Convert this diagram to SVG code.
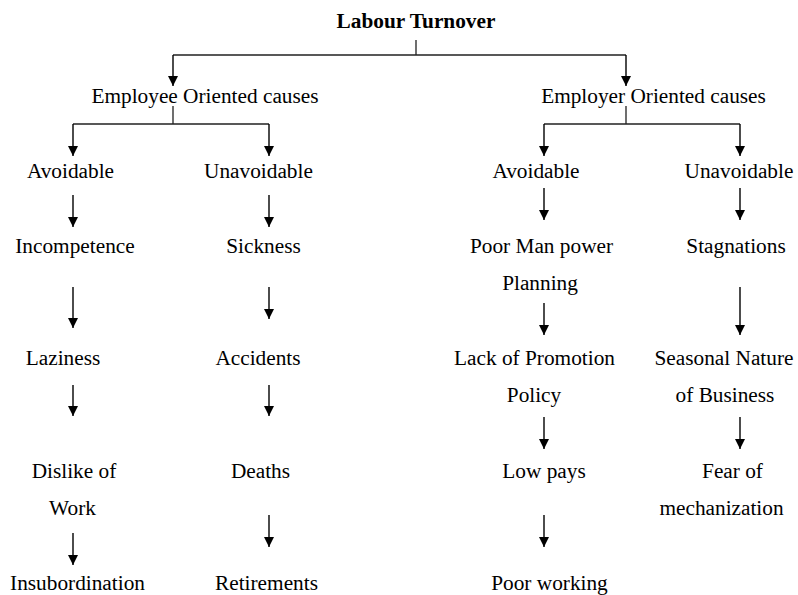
<svg xmlns="http://www.w3.org/2000/svg" width="798" height="595" viewBox="0 0 798 595">
<defs>
<marker id="ah" markerUnits="userSpaceOnUse" markerWidth="10" markerHeight="10" refX="10" refY="5" orient="auto">
<path d="M0,0 L10,5 L0,10 z" fill="#000"/>
</marker>
<style>
text{font-family:'Liberation Serif','DejaVu Serif',serif;font-size:21.3px;fill:#000;text-anchor:middle}
.b{font-weight:bold}
.ln{stroke:#222;stroke-width:1.3;fill:none}
.ar{stroke:#000;stroke-width:1.4;fill:none;marker-end:url(#ah)}
</style>
</defs>
<rect width="798" height="595" fill="#fff"/>
<g id="connectors">
<path class="ln" d="M416,40 V55 M173,55 H626 M173,106 V124 M73,124 H269 M626,106 V124 M544,124 H740"/>
<path class="ar" d="M173,55 V86"/>
<path class="ar" d="M626,55 V86"/>
<path class="ar" d="M73,124 V156"/>
<path class="ar" d="M269,124 V156"/>
<path class="ar" d="M544,124 V156"/>
<path class="ar" d="M740,124 V156"/>
<path class="ar" d="M73,195 V227"/>
<path class="ar" d="M269,195 V227"/>
<path class="ar" d="M544,188 V220"/>
<path class="ar" d="M740,188 V220"/>
<path class="ar" d="M73,287 V328"/>
<path class="ar" d="M269,287 V319"/>
<path class="ar" d="M544,303 V335"/>
<path class="ar" d="M740,287 V335"/>
<path class="ar" d="M73,385 V416"/>
<path class="ar" d="M269,385 V416"/>
<path class="ar" d="M544,417 V449"/>
<path class="ar" d="M740,417 V449"/>
<path class="ar" d="M73,533 V565"/>
<path class="ar" d="M269,515 V547"/>
<path class="ar" d="M544,515 V547"/>
</g>
<g id="n-root"><text class="b" x="416" y="28">Labour Turnover</text></g>
<g id="n-employee"><text x="205" y="103">Employee Oriented causes</text></g>
<g id="n-employer"><text x="653.5" y="103">Employer Oriented causes</text></g>
<g id="n-ee-avoid"><text x="70.5" y="177.5">Avoidable</text></g>
<g id="n-ee-unavoid"><text x="258.5" y="177.5">Unavoidable</text></g>
<g id="n-er-avoid"><text x="536" y="177.5">Avoidable</text></g>
<g id="n-er-unavoid"><text x="739" y="177.5">Unavoidable</text></g>
<g id="n-incompetence"><text x="75" y="253">Incompetence</text></g>
<g id="n-sickness"><text x="263.5" y="253">Sickness</text></g>
<g id="n-poorman"><text x="541.5" y="253">Poor Man power</text><text x="540" y="290">Planning</text></g>
<g id="n-stagnations"><text x="736" y="253">Stagnations</text></g>
<g id="n-laziness"><text x="63" y="365">Laziness</text></g>
<g id="n-accidents"><text x="258" y="365">Accidents</text></g>
<g id="n-lackpromo"><text x="534.5" y="365">Lack of Promotion</text><text x="534" y="402">Policy</text></g>
<g id="n-seasonal"><text x="724" y="365">Seasonal Nature</text><text x="725" y="402">of Business</text></g>
<g id="n-dislike"><text x="74" y="478">Dislike of</text><text x="72.5" y="515">Work</text></g>
<g id="n-deaths"><text x="260.5" y="478">Deaths</text></g>
<g id="n-lowpays"><text x="544" y="478">Low pays</text></g>
<g id="n-fear"><text x="732.5" y="478">Fear of</text><text x="721.5" y="515">mechanization</text></g>
<g id="n-insub"><text x="77.5" y="590">Insubordination</text></g>
<g id="n-retire"><text x="266.5" y="590">Retirements</text></g>
<g id="n-poorworking"><text x="549.5" y="590">Poor working</text></g>
</svg>
